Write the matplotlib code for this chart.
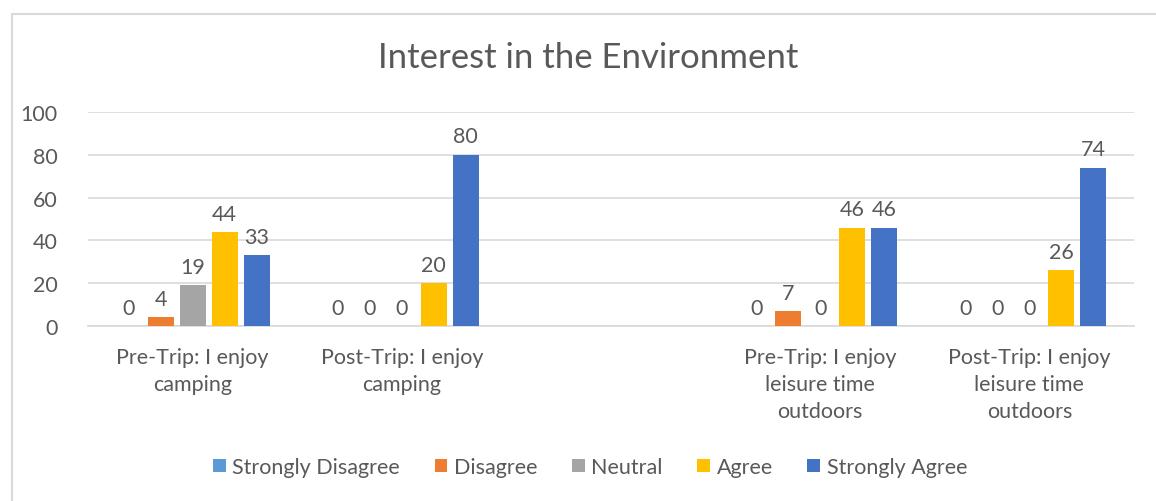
import numpy as np
import matplotlib.pyplot as plt
from matplotlib.patches import Rectangle

plt.rcParams['font.family'] = ['Lato', 'DejaVu Sans']

categories = ["Pre-Trip: I enjoy\ncamping", "Post-Trip: I enjoy\ncamping", "",
              "Pre-Trip: I enjoy\nleisure time\noutdoors",
              "Post-Trip: I enjoy\nleisure time\noutdoors"]
series = ["Strongly Disagree", "Disagree", "Neutral", "Agree", "Strongly Agree"]
nan = np.nan
strongly_disagree = [0, 0, nan, 0, 0]
disagree = [4, 0, nan, 7, 0]
neutral = [19, 0, nan, 0, 0]
agree = [44, 20, nan, 46, 26]
strongly_agree = [33, 80, nan, 46, 74]
values = [strongly_disagree, disagree, neutral, agree, strongly_agree]
colors = ["#5B9BD5", "#ED7D31", "#A5A5A5", "#FFC000", "#4472C4"]
yticks = [0, 20, 40, 60, 80, 100]

txt = "#595959"
fs = 15.5
fig = plt.figure(figsize=(11.56, 5.02), dpi=100)
ax = fig.add_axes([88/1156, 1-327/502, (1134-88)/1156, (327-113)/502])

x = np.arange(len(categories))
w = 0.124
step = 0.153
for i, (name, vals, c) in enumerate(zip(series, values, colors)):
    pos = x + (i - 2) * step
    ax.bar(pos, vals, width=w, color=c, label=name, zorder=3)
    for p, v in zip(pos, vals):
        if not np.isnan(v):
            ax.annotate(f"{v:g}", (p, v), xytext=(0, 6), textcoords="offset points",
                        ha="center", va="bottom", fontsize=fs, color=txt)

ax.set_xlim(-0.5, len(categories) - 0.5)
ax.set_ylim(0, 100)
ax.set_yticks(yticks)
ax.set_xticks(x)
ax.set_xticklabels(categories, linespacing=1.45)
ax.grid(axis="y", color="#d9d9d9", linewidth=1.2, zorder=0)
for s in ["top", "right", "left"]:
    ax.spines[s].set_visible(False)
ax.spines["bottom"].set_color("#d9d9d9")
ax.spines["bottom"].set_linewidth(1.2)
ax.tick_params(axis="both", length=0, labelsize=fs, labelcolor=txt)
ax.tick_params(axis="y", pad=22)
ax.tick_params(axis="x", pad=15)

fig.text(588/1156, 1-58/502, "Interest in the Environment", ha="center", va="center",
         fontsize=25, color=txt)
fig.legend(loc="center", bbox_to_anchor=(590/1156, 1-468/502), ncol=5, frameon=False,
           fontsize=fs, labelcolor=txt, handlelength=0.6, handleheight=0.6,
           handletextpad=0.3, columnspacing=1.6)

fig.patches.append(Rectangle((12/1156, -0.1), 1.2, 1 + 0.1 - 15/502,
                             transform=fig.transFigure, fill=False,
                             edgecolor="#d9d9d9", linewidth=1.5))

fig.savefig("out.png", dpi=100)
